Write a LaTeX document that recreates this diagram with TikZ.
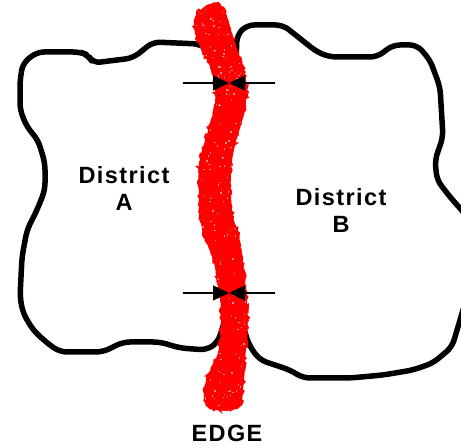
\documentclass[tikz,border=0pt]{standalone}
\usepackage{fontspec}
\setmainfont{Liberation Sans}
\newfontfamily\lblfont[LetterSpace=6]{Liberation Sans}
\usetikzlibrary{arrows.meta,decorations.pathmorphing}
\tikzset{
  district/.style={draw=black, line width=5.5pt, rounded corners=7pt, line join=round},
  edgeband/.style={fill=red, draw=red, line width=1.5pt},
  fuzz/.style={draw=red, line width=2pt, decorate, decoration={random steps, segment length=2.5pt, amplitude=2pt}},
  pointer/.style={line width=1.3pt, -{Triangle[length=16pt,width=15pt]}},
  lbl/.style={font=\lblfont\bfseries\fontsize{23.5}{27}\selectfont, align=center, inner sep=0pt}
}
\begin{document}
\begin{tikzpicture}[x=1pt,y=-1pt]
\useasboundingbox (0,0) rectangle (461,446);
\begin{scope}
\clip (0,0) rectangle (461,446);
% District A
\draw[district] (200,44) -- (153,42) -- (133,58) -- (93,63) -- (88,55) -- (80,52) -- (37,52) -- (23,63) -- (20,80) -- (20,110) -- (27,127) -- (38,140) -- (45,163) -- (45,190) -- (37,210) -- (27,230) -- (22,257) -- (20,297) -- (23,313) -- (33,330) -- (47,343) -- (60,352) -- (103,352) -- (123,342) -- (160,342) -- (180,348) -- (207,350) -- (218,342) -- (225,320) -- (225,290) -- (215,230) -- (212,170) -- (225,100) -- (222,60) -- cycle;
% District B
\draw[district] (237,35) -- (247,25) -- (283,25) -- (293,33) -- (317,52) -- (330,57) -- (377,57) -- (393,45) -- (417,45) -- (430,60) -- (440,87) -- (443,137) -- (435,160) -- (437,180) -- (450,197) -- (466,215) -- (466,300) -- (452,347) -- (433,363) -- (413,370) -- (383,375) -- (350,378) -- (303,378) -- (290,370) -- (260,360) -- (250,347) -- (245,333) -- (238,300) -- (224,220) -- (222,150) -- (235,90) -- cycle;
% Edge band
\def\bandpts{(207,6) (220,6) (228,22) (233,42) (242,65) (246,90) (242,118) (233,150) (230,180) (232,215) (240,245) (245,290) (247,320) (245,350) (243,380) (241,400) (236,408) (226,410) (212,408) (205,400) (207,380) (219,352) (222,320) (220,293) (213,255) (203,230) (200,200) (200,163) (209,130) (216,100) (212,70) (199,42) (195,20)}
\path[edgeband] plot[smooth cycle, tension=0.6] coordinates {\bandpts};
\draw[fuzz] plot[smooth cycle, tension=0.6] coordinates {\bandpts};
\begin{scope}
\clip plot[smooth cycle, tension=0.6] coordinates {\bandpts};
\pgfmathsetseed{7}
\foreach \i in {1,...,260} {
  \pgfmathsetmacro{\px}{195+55*rnd}
  \pgfmathsetmacro{\py}{5+405*rnd}
  \fill[white, opacity=0.55] (\px,\py) rectangle ++(1.4,1.4);
}
\foreach \i in {1,...,25} {
  \pgfmathsetmacro{\px}{205+30*rnd}
  \pgfmathsetmacro{\py}{40+300*rnd}
  \fill[black!60!red, opacity=0.6] (\px,\py) rectangle ++(1.2,1.2);
}
\end{scope}
\end{scope}
% Arrows
\coordinate (ulTail) at (183,83);
\coordinate (urTail) at (275,83);
\coordinate (uTip) at (229,83);
\coordinate (llTail) at (183,293);
\coordinate (lrTail) at (275,293);
\coordinate (lTip) at (229,293);
\draw[pointer] (ulTail) -- (uTip);
\draw[pointer] (urTail) -- (uTip);
\draw[pointer] (llTail) -- (lTip);
\draw[pointer] (lrTail) -- (lTip);
% Labels
\node[lbl] (labelA) at (124,188) {District\\A};
\node[lbl] (labelB) at (341,210) {District\\B};
\node[lbl, anchor=base] (edgeLabel) at (227,442) {EDGE};
\end{tikzpicture}
\end{document}
